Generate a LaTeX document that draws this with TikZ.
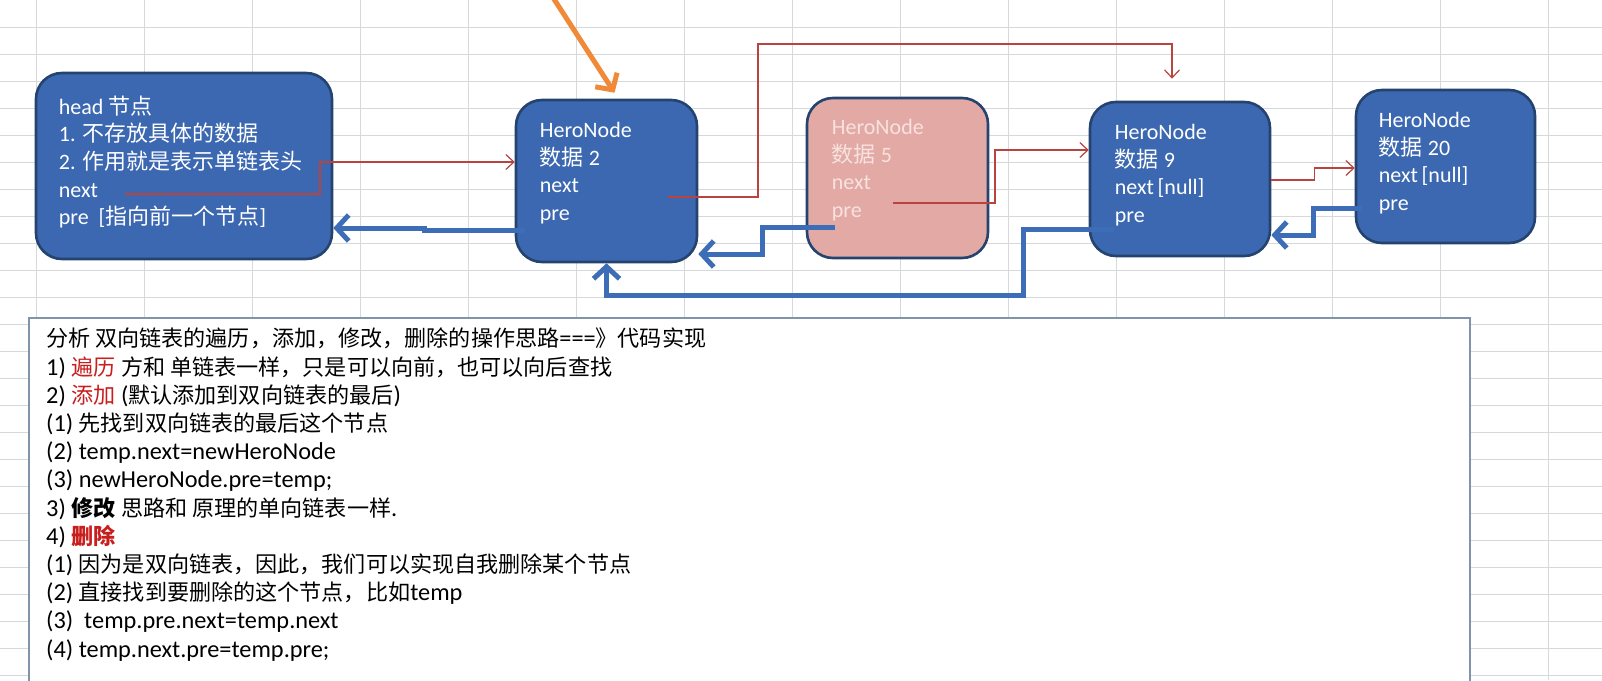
\documentclass[tikz,border=0pt]{standalone}
\usepackage{fontspec}
\setmainfont{Carlito}
\newfontfamily\notefont{Carlito}[Scale=1.1]
\newfontfamily\cjk{Noto Sans CJK SC}
\newcommand{\cn}[1]{{\cjk #1}}
\usetikzlibrary{arrows.meta,positioning}
\definecolor{herofill}{HTML}{3B68B0}
\definecolor{heroedge}{HTML}{25436F}
\definecolor{pinkfill}{HTML}{E2A9A5}
\definecolor{pinktext}{HTML}{F8E2E0}
\definecolor{linkred}{HTML}{B8433F}
\definecolor{prelink}{HTML}{3C6DB6}
\definecolor{pointer}{HTML}{F08A38}
\definecolor{gridgray}{HTML}{D6D9DC}
\definecolor{frameblue}{HTML}{8095A8}
\definecolor{hotred}{HTML}{C81E1E}

\begin{document}
\begin{tikzpicture}[
  x=1pt, y=-1pt,
  hero/.style={draw=heroedge, line width=2.6pt, fill=herofill, rounded corners=26pt},
  herotxt/.style={text=white, align=left, inner sep=0pt, font=\fontsize{22}{27.6}\selectfont},
  notetxt/.style={align=left, inner sep=0pt, font=\notefont\fontsize{22.1}{28.2}\selectfont},
  gridline/.style={draw=gridgray, line width=1pt},
  nextline/.style={draw=linkred, line width=1.2pt, -{Straight Barb[length=8pt,width=15pt]}},
  preline/.style={draw=prelink, line width=5pt, -{Straight Barb[length=12pt,width=26pt]}},
  pointline/.style={draw=pointer, line width=5pt, line cap=round, -{Straight Barb[length=12pt,width=26pt]}}
]
\path[use as bounding box, clip] (0,0) rectangle (1602,680);
\fill[white] (0,0) rectangle (1602,680);

% sheet grid
\foreach \gx in {36,144,...,1548}
  \draw[gridline] (\gx,0) -- (\gx,680);
\foreach \gy in {27,54,...,675}
  \draw[gridline] (0,\gy) -- (1602,\gy);

% nodes of the list
\node[hero, minimum width=296pt, minimum height=186pt] (head) at (184,166) {};
\node[herotxt, right=24pt of head.west, yshift=4pt] (headtxt)
  {head \cn{节点}\\1. \cn{不存放具体的数据}\\2. \cn{作用就是表示单链表头}\\next\\pre\ \ [\cn{指向前一个节点}]};

\node[hero, minimum width=181pt, minimum height=162pt] (n2) at (606.5,181) {};
\node[herotxt, right=25pt of n2.west, yshift=8pt] (n2txt)
  {HeroNode\\\cn{数据} 2\\next\\pre};

\node[hero, fill=pinkfill, minimum width=181pt, minimum height=160pt] (n5) at (897.5,178) {};
\node[herotxt, text=pinktext, right=26pt of n5.west, yshift=8pt] (n5txt)
  {HeroNode\\\cn{数据} 5\\next\\pre};

\node[hero, minimum width=180pt, minimum height=154pt] (n9) at (1180,179) {};
\node[herotxt, right=26pt of n9.west, yshift=4pt] (n9txt)
  {HeroNode\\\cn{数据} 9\\next\,[null]\\pre};

\node[hero, minimum width=179pt, minimum height=153pt] (n20) at (1445.5,166.5) {};
\node[herotxt, right=24pt of n20.west, yshift=3.5pt] (n20txt)
  {HeroNode\\\cn{数据} 20\\next\,[null]\\pre};

% next links
\coordinate (hnext) at (125,194);
\coordinate (n2next) at (668,197);
\coordinate (n5next) at (893,203);
\draw[nextline] (hnext) -- ++(195,0) |- ([yshift=19pt]n2.west);
\draw[nextline] (n2next) -- ++(90,0) -- ++(0,-153) -| ([xshift=-8pt,yshift=22pt]n9.north);
\draw[nextline] (n5next) -- ++(102,0) |- ([yshift=29pt]n9.west);
\draw[nextline] ([yshift=-1pt]n9.east) -- ++(43,0) |- ([yshift=-1.5pt]n20.west);

% pre links
\coordinate (n2pre) at (525,230);
\coordinate (n5pre) at (835,227);
\coordinate (n9pre) at (1114,229);
\coordinate (n20pre) at (1362,208);
\draw[preline] (n2pre) -- ++(-101,0) -- ++(0,-2) -- ([yshift=-62pt]head.east);
\draw[preline] (n5pre) -- ++(-73,0) |- ([yshift=-73pt]n2.east);
\draw[preline] (n9pre) -- ++(-91,0) -- ++(0,66) -| (n2.south);
\draw[preline] (n20pre) -- ++(-49,0) |- ([yshift=-56pt]n9.east);

% pointer
\coordinate (ptop) at (552,-4);
\draw[pointline] (ptop) -- ([xshift=8pt,yshift=6pt]n2.north);

% notes
\fill[white] (29,318) rectangle (1470,700);
\draw[draw=frameblue, line width=1.4pt] (29,700) |- (1470,318) -- (1470,700);
\node[notetxt, anchor=north west] (notetxt) at (46,328) {%
\cn{分析 双向链表的遍历，添加，修改，删除的操作思路}===\cn{》代码实现}\\
1) \textcolor{hotred}{\cn{遍历}} \cn{方和 单链表一样，只是可以向前，也可以向后查找}\\
2) \textcolor{hotred}{\cn{添加}} (\cn{默认添加到双向链表的最后})\\
(1) \cn{先找到双向链表的最后这个节点}\\
(2) temp.next=newHeroNode\\
(3) newHeroNode.pre=temp;\\
3) \textbf{\cn{修改}} \cn{思路和 原理的单向链表一样}.\\
4) \textcolor{hotred}{\textbf{\cn{删除}}}\\
(1) \cn{因为是双向链表，因此，我们可以实现自我删除某个节点}\\
(2) \cn{直接找到要删除的这个节点，比如}temp\\
(3)\ \ temp.pre.next=temp.next\\
(4) temp.next.pre=temp.pre;};
\end{tikzpicture}
\end{document}
